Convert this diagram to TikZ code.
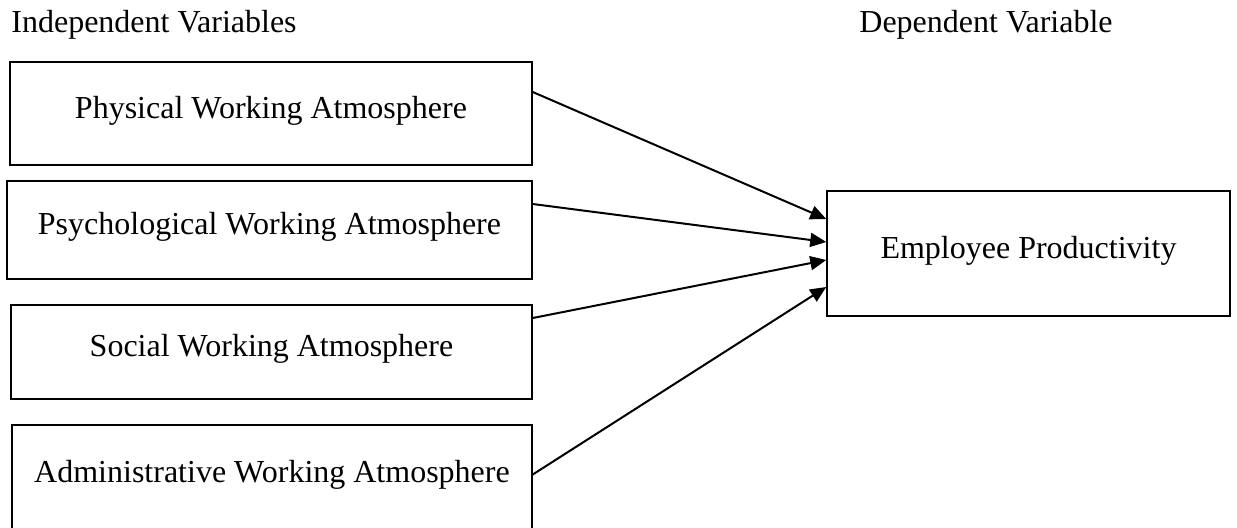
\documentclass[tikz,border=0pt]{standalone}
\usepackage{fontspec}
\setmainfont{Liberation Serif}
\usetikzlibrary{arrows.meta}

\tikzset{
  headtext/.style={anchor=base west, inner sep=0pt, font=\fontsize{16}{18}\selectfont},
  varbox/.style={draw, line width=0.75pt, inner sep=0pt, text height=11.2pt, text depth=6.5pt,
    font=\fontsize{16}{18}\selectfont},
  varlink/.style={line width=1pt, -{Triangle[length=8pt,width=7pt]}},
}

\begin{document}
\begin{tikzpicture}[x=0.5pt,y=-0.5pt]
\useasboundingbox (0,0) rectangle (1237,527);
\clip (0,0) rectangle (1237,527);
% Column headings
\node[headtext] (indep) at (11,32) {Independent Variables};
\node[headtext] (dep) at (859,32) {Dependent Variable};
% Drawing the four independent variables
\node[varbox, minimum width=261pt, minimum height=51.5pt] (phys) at (271,113.5) {Physical Working Atmosphere};
\node[varbox, minimum width=262.5pt, minimum height=49pt] (psych) at (269.5,230) {Psychological Working Atmosphere};
\node[varbox, minimum width=260.5pt, minimum height=47pt] (soc) at (271.5,352) {Social Working Atmosphere};
\node[varbox, minimum width=260pt, minimum height=52.5pt] (admin) at (272,477.5) {Administrative Working Atmosphere};
% Dependent variable
\node[varbox, minimum width=201.5pt, minimum height=62.5pt] (prod) at (1028.5,253.5) {Employee Productivity};
% Done with boxes; drawing arrows
\draw[varlink] ([yshift=10.75pt]phys.east) -- ([yshift=17.25pt]prod.west);
\draw[varlink] ([yshift=13pt]psych.east) -- ([yshift=5.75pt]prod.west);
\draw[varlink] ([yshift=17pt]soc.east) -- ([yshift=-3.25pt]prod.west);
\draw[varlink] ([yshift=1.5pt]admin.east) -- ([yshift=-16.75pt]prod.west);
\end{tikzpicture}
\end{document}
